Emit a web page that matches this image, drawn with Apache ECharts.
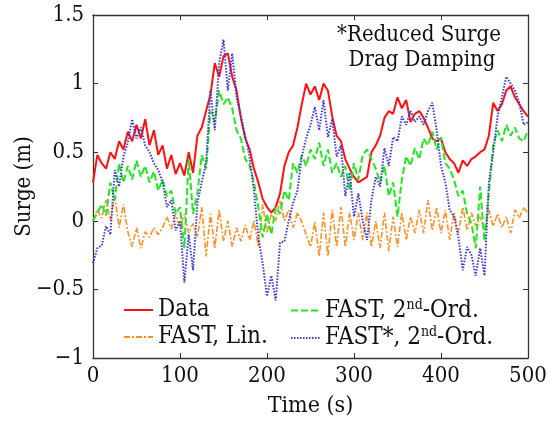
<!DOCTYPE html>
<html>
<head>
<meta charset="utf-8">
<script src="https://cdn.jsdelivr.net/npm/echarts@6/dist/echarts.min.js"></script>
<style>html,body{margin:0;padding:0;background:#fff}#c{width:560px;height:421px}</style>
</head>
<body>
<div id="c"></div>
<script>
// Time step of the sampled traces (s)
const timeStep = 5;
const xTicks = [0, 100, 200, 300, 400, 500];
const yTicks = [-1, -0.5, 0, 0.5, 1, 1.5];

const dataSurge = [0.28,0.48,0.42,0.38,0.5,0.45,0.58,0.52,0.65,0.58,0.7,0.6,0.74,0.55,0.66,0.48,0.55,0.38,0.48,0.34,
0.42,0.33,0.5,0.35,0.62,0.68,0.8,0.92,1.15,1.05,1.2,1.22,1.05,0.95,0.75,0.6,0.52,0.38,0.28,0.16,
0.1,0.06,0.1,0.2,0.4,0.5,0.55,0.68,0.85,1.0,0.92,0.98,0.88,1.0,0.95,0.76,0.62,0.58,0.45,0.38,
0.32,0.28,0.3,0.32,0.5,0.55,0.62,0.75,0.8,0.78,0.9,0.82,0.88,0.72,0.78,0.8,0.75,0.68,0.6,0.58,
0.6,0.5,0.45,0.42,0.35,0.44,0.4,0.45,0.47,0.5,0.52,0.62,0.86,0.8,0.85,0.95,0.98,0.9,0.85,0.8,0.76];

const fastLin = [0.0,0.08,0.02,0.15,0.0,0.18,-0.05,0.12,-0.08,-0.19,-0.05,-0.2,-0.08,-0.12,-0.05,-0.1,-0.05,0.03,-0.06,0.05,
-0.05,0.05,-0.09,-0.02,-0.12,0.1,-0.26,0.05,-0.2,0.08,-0.15,0.0,-0.19,-0.05,-0.15,-0.03,-0.14,0.0,-0.19,0.12,
-0.09,0.05,0.0,0.15,0.0,0.08,-0.05,0.06,-0.01,-0.1,-0.19,-0.01,-0.26,0.06,-0.26,0.08,-0.19,0.1,-0.19,0.06,
-0.14,0.06,-0.14,0.06,-0.19,0.0,-0.2,0.06,-0.22,0.03,-0.19,0.06,-0.14,0.03,-0.09,0.08,-0.09,0.15,-0.07,0.1,
-0.09,0.08,-0.14,0.06,-0.09,0.1,-0.07,0.06,-0.04,0.03,-0.07,0.08,-0.04,0.05,-0.05,0.03,-0.09,0.08,0.02,0.1,0.05];

const fast2nd = [0.0,0.06,0.12,0.04,0.28,0.15,0.42,0.28,0.4,0.3,0.44,0.32,0.4,0.28,0.36,0.22,0.3,0.18,0.22,0.05,
0.1,-0.2,0.45,0.05,0.2,0.48,0.38,0.8,0.72,0.95,0.85,0.9,0.82,0.66,0.6,0.45,0.4,0.28,0.1,-0.12,
0.05,-0.1,0.1,0.05,0.22,0.15,0.42,0.35,0.48,0.4,0.52,0.45,0.57,0.4,0.52,0.35,0.42,0.32,0.4,0.22,
0.42,0.3,0.48,0.52,0.45,0.38,0.28,0.4,0.18,0.28,0.03,0.3,0.47,0.4,0.53,0.45,0.6,0.55,0.65,0.52,
0.61,0.42,0.38,0.3,0.18,0.22,0.05,-0.02,-0.2,0.25,-0.15,0.2,0.55,0.66,0.58,0.7,0.62,0.68,0.6,0.58,0.66];

const fastStar2nd = [-0.31,-0.2,-0.18,-0.04,-0.1,0.37,0.25,0.47,0.57,0.74,0.6,0.68,0.55,0.5,0.42,0.37,0.28,0.1,0.15,-0.07,
0.0,-0.45,-0.1,-0.36,0.13,0.28,0.42,0.95,0.66,1.15,1.32,0.95,1.22,0.9,0.76,0.62,0.47,0.22,-0.12,-0.31,
-0.55,-0.4,-0.58,-0.16,-0.15,0.0,0.13,0.22,0.47,0.6,0.7,0.83,0.66,0.88,0.61,0.74,0.47,0.55,0.18,0.35,
0.03,0.2,0.0,-0.14,0.15,0.32,0.25,0.53,0.4,0.61,0.58,0.76,0.7,0.8,0.72,0.76,0.7,0.8,0.86,0.66,
0.4,0.28,0.08,0.03,-0.12,-0.36,-0.19,-0.25,-0.4,-0.2,-0.4,0.28,0.5,0.76,0.9,1.05,1.0,0.95,0.86,0.7,0.72];

const seriesNames = ['Data', 'FAST, Lin.', 'FAST, 2nd-Ord.', 'FAST*, 2nd-Ord.'];

function pairs(arr){ return arr.map((v,i)=>[i*timeStep, v]); }

const fontC = 'DejaVu Serif Condensed';
const fmtNum = v => (v < 0 ? '\u2212' + Math.abs(v) : String(v));
const legendFmt = name => name.replace('2nd', '2{sup|nd}');
const legendText = {
  fontFamily: fontC, fontSize: 24, color: '#111',
  rich: { sup: { fontFamily: fontC, fontSize: 14, color: '#111', verticalAlign: 'top', padding: [0,0,11,0] } }
};
const axisColor = '#333';

const chart = echarts.init(document.getElementById('c'), null, {renderer: 'canvas'});
chart.setOption({
  animation: false,
  backgroundColor: '#fff',
  grid: { left: 93, right: 32, top: 15, bottom: 63, show: false, outerBoundsMode: 'none', containLabel: false },
  xAxis: [{
    type: 'value', min: xTicks[0], max: xTicks[xTicks.length-1], interval: 100,
    name: 'Time (s)', nameLocation: 'middle', nameGap: 37, nameMoveOverlap: false,
    nameTextStyle: { fontFamily: fontC, fontSize: 23, color: '#111' },
    axisLine: { show: true, onZero: false, lineStyle: { color: axisColor, width: 1.3 } },
    axisTick: { show: true, inside: true, length: 5, lineStyle: { color: axisColor } },
    axisLabel: { fontFamily: fontC, fontSize: 22, color: '#111', margin: 7 },
    splitLine: { show: false }
  }, {
    type: 'value', position: 'top', min: xTicks[0], max: xTicks[xTicks.length-1], interval: 100,
    axisLine: { show: true, onZero: false, lineStyle: { color: axisColor, width: 1.3 } },
    axisTick: { show: true, inside: true, length: 5, lineStyle: { color: axisColor } },
    axisLabel: { show: false }, splitLine: { show: false }
  }],
  yAxis: [{
    type: 'value', min: yTicks[0], max: yTicks[yTicks.length-1], interval: 0.5,
    name: 'Surge (m)', nameLocation: 'middle', nameGap: 58, nameRotate: 90, nameMoveOverlap: false,
    nameTextStyle: { fontFamily: fontC, fontSize: 22, color: '#111' },
    axisLine: { show: true, onZero: false, lineStyle: { color: axisColor, width: 1.3 } },
    axisTick: { show: true, inside: true, length: 5, lineStyle: { color: axisColor } },
    axisLabel: { fontFamily: fontC, fontSize: 22, color: '#111', margin: 9, formatter: fmtNum },
    splitLine: { show: false }
  }, {
    type: 'value', position: 'right', min: yTicks[0], max: yTicks[yTicks.length-1], interval: 0.5,
    axisLine: { show: true, onZero: false, lineStyle: { color: axisColor, width: 1.3 } },
    axisTick: { show: true, inside: true, length: 5, lineStyle: { color: axisColor } },
    axisLabel: { show: false }, splitLine: { show: false }
  }],
  legend: [{
    data: [seriesNames[0], seriesNames[1]], orient: 'vertical', left: 123, top: 298,
    itemWidth: 29, itemHeight: 10, itemGap: 3, padding: 0,
    itemStyle: { opacity: 0 },
    formatter: legendFmt, textStyle: legendText
  }, {
    data: [seriesNames[2], seriesNames[3]], orient: 'vertical', left: 290, top: 298,
    itemWidth: 29, itemHeight: 10, itemGap: 3, padding: 0,
    itemStyle: { opacity: 0 },
    formatter: legendFmt, textStyle: legendText
  }],
  graphic: [{
    type: 'text', x: 419, y: 24,
    style: { text: '*Reduced Surge', fontFamily: fontC, fontSize: 22, fill: '#111', textAlign: 'center' }
  }, {
    type: 'text', x: 422, y: 49,
    style: { text: 'Drag Damping', fontFamily: fontC, fontSize: 22, fill: '#111', textAlign: 'center' }
  }],
  series: [{
    name: seriesNames[0], type: 'line', data: pairs(dataSurge), symbol: 'none', showSymbol: false,
    lineStyle: { color: '#ff1010', width: 2 }, itemStyle: { color: '#ff1010' }, z: 2
  }, {
    name: seriesNames[1], type: 'line', data: pairs(fastLin), symbol: 'none', showSymbol: false,
    lineStyle: { color: '#ff9020', width: 1.6, type: [6, 2, 2, 2] }, itemStyle: { color: '#ff9020' }, z: 3
  }, {
    name: seriesNames[2], type: 'line', data: pairs(fast2nd), symbol: 'none', showSymbol: false,
    lineStyle: { color: '#22e622', width: 2, type: [7, 3] }, itemStyle: { color: '#22e622' }, z: 4
  }, {
    name: seriesNames[3], type: 'line', data: pairs(fastStar2nd), symbol: 'none', showSymbol: false,
    lineStyle: { color: '#3a3ad8', width: 2, type: [1.5, 1.5] }, itemStyle: { color: '#3a3ad8' }, z: 5
  }]
});
</script>
</body>
</html>
